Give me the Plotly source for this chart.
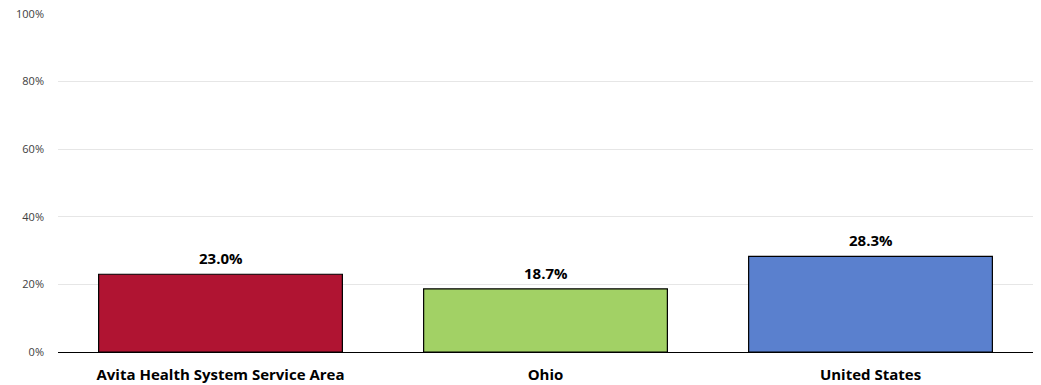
import plotly.graph_objects as go

categories = ["Avita Health System Service Area", "Ohio", "United States"]
values = [23.0, 18.7, 28.3]
colors = ["#B01432", "#A2D165", "#5A80CE"]
tick_vals = [0, 20, 40, 60, 80, 100]
tick_text = ["0%", "20%", "40%", "60%", "80%", "100%"]

fig = go.Figure(go.Bar(
    x=categories,
    y=values,
    marker=dict(color=colors, line=dict(color="#000000", width=1.2)),
    hoverinfo="skip",
))

for c, v in zip(categories, values):
    fig.add_annotation(
        x=c, y=v, text=f"{v:.1f}%", showarrow=False,
        yanchor="bottom", yshift=4,
        font=dict(family="Open Sans", size=15, color="#000000", weight="bold"),
    )

fig.update_layout(
    template="none",
    width=1041, height=385,
    margin=dict(l=58, r=8, t=14, b=33, autoexpand=False),
    paper_bgcolor="white", plot_bgcolor="white",
    bargap=0.25,
    showlegend=False,
    font=dict(family="Open Sans", color="#404040"),
)
fig.update_xaxes(
    automargin=False,
    tickfont=dict(family="Open Sans", size=15, color="#000000", weight="bold"),
    showgrid=False, showline=True, linecolor="#000000", linewidth=1.2,
    ticks="", ticklabelstandoff=9,
)
fig.update_yaxes(
    automargin=False,
    range=[0, 100], tickvals=tick_vals, ticktext=tick_text,
    tickfont=dict(family="Open Sans", size=11, color="#404040"),
    showgrid=True, gridcolor="#E6E6E6", gridwidth=1,
    zeroline=False, showline=False, ticks="", ticklabelstandoff=13,
)

fig.write_html(
    "out.html",
    config={"displayModeBar": False},
    post_script="document.body.style.margin='0';document.body.style.padding='0';document.body.style.overflow='hidden';",
)
